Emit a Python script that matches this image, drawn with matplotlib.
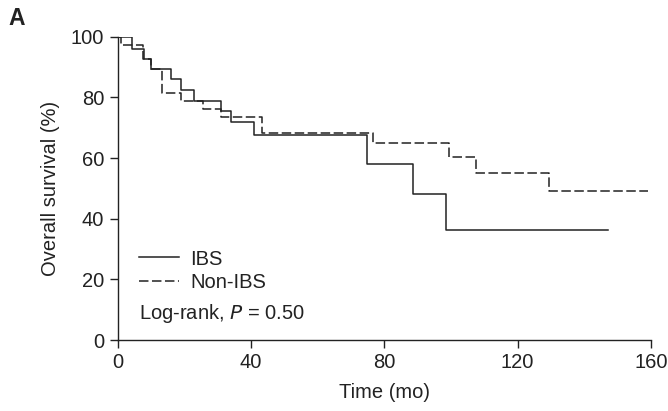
import matplotlib
matplotlib.use("Agg")
import matplotlib.pyplot as plt

plt.rcParams['font.family'] = ['Liberation Sans', 'DejaVu Sans']

# IBS (solid)
ibs_time = [0, 4.3, 8.0, 10.0, 16.0, 19.0, 23.0, 31.0, 34.0, 41.0, 74.7, 88.7, 98.4, 147.0]
ibs_surv = [100, 96.1, 92.6, 89.3, 85.9, 82.4, 78.9, 75.5, 71.9, 67.5, 57.9, 48.3, 36.2, 36.2]

# Non-IBS (dashed)
non_time = [0, 1.0, 7.5, 10.0, 13.3, 19.0, 25.7, 30.9, 43.2, 76.5, 99.4, 107.5, 129.3, 159.2]
non_surv = [100, 97.2, 92.8, 89.3, 81.5, 78.9, 76.0, 73.4, 68.2, 64.8, 60.2, 55.1, 49.1, 49.1]

xticks = [0, 40, 80, 120, 160]
yticks = [0, 20, 40, 60, 80, 100]

FS = 14.5
col = '#222222'

fig = plt.figure(figsize=(6.68, 4.11), dpi=100)
ax = fig.add_axes([0.176, 0.1727, 0.7986, 0.738])

ax.step(ibs_time, ibs_surv, where='post', color=col, lw=1.1, label='IBS')
ax.step(non_time, non_surv, where='post', color=col, lw=1.1,
        linestyle=(0, (6.2, 2.3)), label='Non-IBS')

ax.set_xlim(0, 160)
ax.set_ylim(0, 100)
ax.set_xticks(xticks)
ax.set_yticks(yticks)
ax.tick_params(direction='out', length=5.5, width=1.0, pad=4, labelsize=FS,
               colors=col, labelcolor=col)
for s in ['top', 'right']:
    ax.spines[s].set_visible(False)
for s in ['left', 'bottom']:
    ax.spines[s].set_linewidth(1.0)
    ax.spines[s].set_color(col)

ax.set_xlabel('Time (mo)', fontsize=FS, color=col, labelpad=8)
ax.set_ylabel('Overall survival (%)', fontsize=FS, color=col, labelpad=8)

leg = ax.legend(loc='center left', bbox_to_anchor=(0.04, 0.229), frameon=False,
                fontsize=FS, borderpad=0, borderaxespad=0, handlelength=2.0,
                handletextpad=0.55, labelspacing=0.2)
for t in leg.get_texts():
    t.set_color(col)

ax.text(0.04, 0.089, 'Log-rank, $\\it{P}$ = 0.50', transform=ax.transAxes,
        fontsize=FS, color=col, va='center', ha='left')

fig.text(0.012, 0.954, 'A', fontsize=16.5, fontweight='bold', color=col,
         va='center', ha='left')

fig.savefig('out.png', dpi=100)
